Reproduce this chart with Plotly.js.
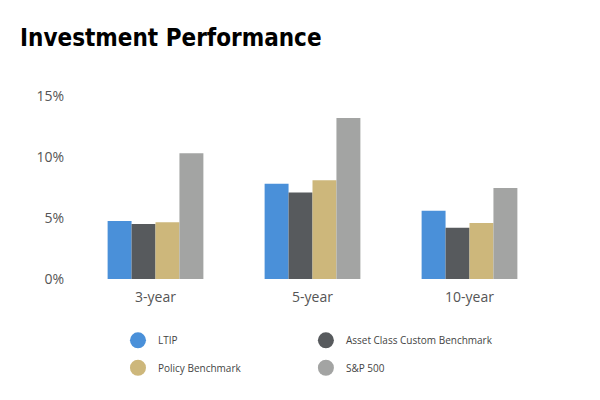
<!DOCTYPE html>
<html>
<head>
<meta charset="utf-8">
<script src="https://cdn.plot.ly/plotly-3.0.1.min.js"></script>
<style>html,body{margin:0;padding:0;background:#fff;}#chart{width:600px;height:400px;}</style>
</head>
<body>
<div id="chart"></div>
<script>
var categories = ['3-year', '5-year', '10-year'];
var seriesNames = ['LTIP', 'Asset Class Custom Benchmark', 'Policy Benchmark', 'S&P 500'];
var ltip = [4.75, 7.8, 5.6];
var assetClass = [4.5, 7.1, 4.2];
var policy = [4.65, 8.1, 4.6];
var sp500 = [10.3, 13.2, 7.45];
var yTicks = [0, 5, 10, 15];
var yTickLabels = ['0%', '5%', '10%', '15%'];
var colors = ['#4A90D9', '#575A5D', '#CDB77B', '#A3A4A3'];

var values = [ltip, assetClass, policy, sp500];
var legendIds = ['legend', 'legend2', 'legend3', 'legend4'];
var data = [];
values.forEach(function (v, i) {
  data.push({
    type: 'bar', x: categories, y: v, name: seriesNames[i],
    marker: {color: colors[i]}, showlegend: false, hoverinfo: 'x+y+name'
  });
});
values.forEach(function (v, i) {
  data.push({
    type: 'scatter', mode: 'markers', x: [null], y: [null], name: seriesNames[i],
    marker: {color: colors[i], size: 17, symbol: 'circle'},
    legend: legendIds[i], showlegend: true
  });
});

function legendAt(x, y) {
  return {
    x: x, y: y, orientation: 'h', xanchor: 'left', yanchor: 'middle',
    font: {family: 'Open Sans', size: 10, color: '#444'},
    bgcolor: 'rgba(0,0,0,0)', itemclick: false, itemdoubleclick: false
  };
}

var layout = {
  width: 600, height: 400,
  paper_bgcolor: '#fff', plot_bgcolor: '#fff',
  margin: {l: 77, r: 52, t: 96, b: 121},
  title: {
    text: 'Investment Performance',
    font: {family: 'DejaVu Sans Condensed', size: 24, color: '#000', weight: 'bold'},
    x: 20 / 600, xanchor: 'left', xref: 'container',
    y: 1 - 38 / 400, yanchor: 'middle', yref: 'container'
  },
  barmode: 'group', bargap: 0.39, bargroupgap: 0,
  xaxis: {
    type: 'category', showgrid: false, zeroline: false, showline: false, ticks: '',
    tickfont: {family: 'Open Sans', size: 14, color: '#555'},
    ticklabelstandoff: 8
  },
  yaxis: {
    range: [0, 15], tickmode: 'array', tickvals: yTicks, ticktext: yTickLabels,
    showgrid: false, zeroline: false, showline: false, ticks: '',
    tickfont: {family: 'Open Sans', size: 14, color: '#555'},
    ticklabelstandoff: 12
  },
  legend: legendAt(0.087, -0.335),
  legend2: legendAt(0.486, -0.335),
  legend3: legendAt(0.087, -0.485),
  legend4: legendAt(0.486, -0.485),
  showlegend: true
};

Plotly.newPlot('chart', data, layout, {displayModeBar: false, staticPlot: true});
</script>
</body>
</html>
